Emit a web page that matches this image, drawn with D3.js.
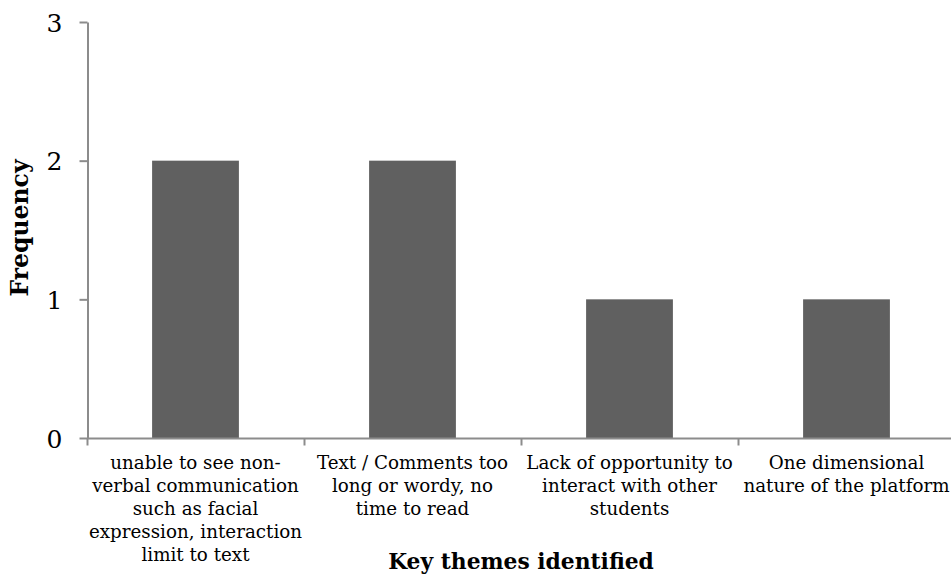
<!DOCTYPE html>
<html><head><meta charset="utf-8">
<script src="https://cdn.jsdelivr.net/npm/d3@7"></script>
<style>body{margin:0;background:#fff;} svg{display:block;}</style>
</head><body>
<svg id="c" width="951" height="575"></svg>
<script>
const categories = [
  ["unable to see non-","verbal communication","such as facial","expression, interaction","limit to text"],
  ["Text / Comments too","long or wordy, no","time to read"],
  ["Lack of opportunity to","interact with other","students"],
  ["One dimensional","nature of the platform"]
];
const values = [2, 2, 1, 1];
const yTicks = [0, 1, 2, 3];
const yTitle = "Frequency";
const xTitle = "Key themes identified";

const svg = d3.select("#c");
const font = "'DejaVu Serif', serif";
const keys = categories.map((c,i)=>String(i));
const x = d3.scaleBand().domain(keys).range([87, 955]).paddingInner(0.6).paddingOuter(0.3);
const xSlot = d3.scaleBand().domain(keys).range([87, 955]).padding(0);
const y = d3.scaleLinear().domain([0, 3]).range([438, 22]);
const axisColor = "#8c8c8c";

// bars
svg.append("g").selectAll("rect").data(values).join("rect")
  .attr("x", (d,i)=>x(keys[i])).attr("width", x.bandwidth())
  .attr("y", d=>y(d)).attr("height", d=>y(0)-y(d))
  .attr("fill", "#606060");

// y axis
const ya = svg.append("g").attr("transform","translate(87.5,0)")
  .call(d3.axisLeft(y).tickValues(yTicks).tickFormat(d3.format("d")).tickSize(8).tickSizeOuter(0));
ya.select(".domain").attr("stroke", axisColor).attr("stroke-width", 2);
ya.selectAll(".tick line").attr("stroke", axisColor).attr("stroke-width", 2);
ya.selectAll(".tick text").attr("font-family", font).attr("font-size", 25).attr("fill","#000").attr("x", -25).attr("dy","0.36em");

// x axis
const xa = svg.append("g").attr("transform","translate(0,438.5)");
xa.append("line").attr("x1", 87).attr("x2", 955).attr("stroke", axisColor).attr("stroke-width", 2);
xa.selectAll("line.t").data(keys).join("line").attr("class","t")
  .attr("x1", d=>Math.round(xSlot(d))+0.5).attr("x2", d=>Math.round(xSlot(d))+0.5)
  .attr("y1", 0).attr("y2", 7).attr("stroke", axisColor).attr("stroke-width", 2);

// category labels
const lab = svg.append("g");
categories.forEach((lines,i)=>{
  const cx = xSlot(keys[i]) + xSlot.bandwidth()/2;
  const t = lab.append("text").attr("text-anchor","middle").attr("font-family", font)
    .attr("font-size", 18.3).attr("fill","#000");
  lines.forEach((ln,j)=>{
    t.append("tspan").attr("x", cx).attr("y", 469 + j*23).text(ln);
  });
});

// titles
svg.append("text").attr("transform","translate(28,228) rotate(-90)")
  .attr("text-anchor","middle").attr("font-family", font).attr("font-weight","bold")
  .attr("font-size", 23.5).text(yTitle);
svg.append("text").attr("x", 521).attr("y", 569)
  .attr("text-anchor","middle").attr("font-family", font).attr("font-weight","bold")
  .attr("font-size", 21.8).text(xTitle);
</script>
</body></html>
